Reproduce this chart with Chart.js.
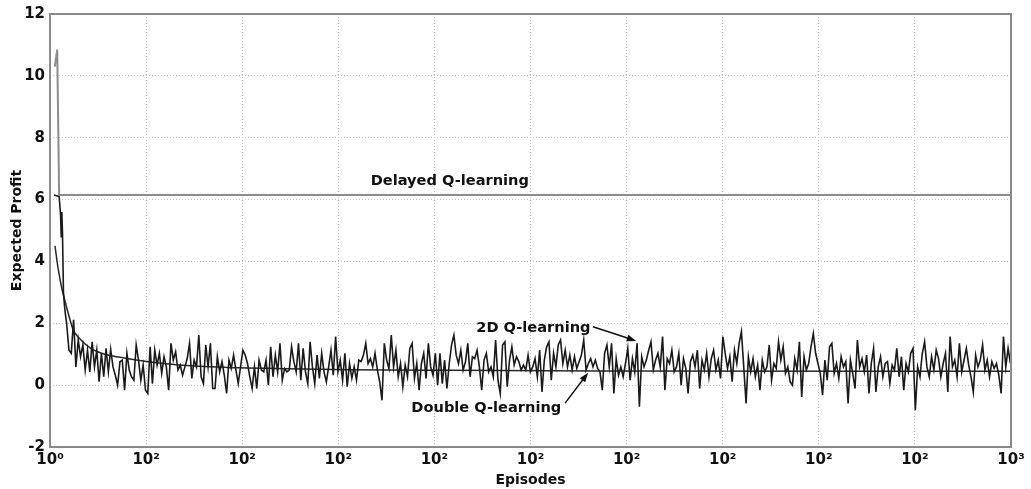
<!DOCTYPE html>
<html lang="en">
<head>
    <meta charset="UTF-8">
    <title>Expected Profit vs Episodes</title>
    <script src="https://cdn.jsdelivr.net/npm/chart.js"></script>
    <style>
        * { margin: 0; padding: 0; box-sizing: border-box; }
        body { background: #fff; }
        .wrap { width: 1031px; height: 489px; }
    </style>
</head>
<body>
    <div class="wrap"><canvas id="profitChart"></canvas></div>

    <script>
        // Delayed Q-learning: short spike, then flat
        const delayedEp = [5, 7.5, 9.5, 1000];
        const delayedVal = [10.3, 10.85, 6.15, 6.15];

        // Double Q-learning: smooth decaying curve
        const doubleEp = [5.2, 8.3, 12.5, 16.6, 24, 31, 42, 57, 73, 104, 146, 198, 247, 312, 416, 572, 1000];
        const doubleVal = [4.5, 3.8, 3.1, 2.6, 1.8, 1.5, 1.2, 1.0, 0.9, 0.75, 0.63, 0.56, 0.53, 0.5, 0.48, 0.46, 0.45];

        // 2D Q-learning: first few episodes
        const headEp = [4, 9.5, 11, 11.7, 12.3, 13, 14, 15, 16];
        const headVal = [6.15, 6.1, 5.5, 4.8, 5.6, 4.9, 3.0, 2.6, 2.3];

        const noiseStart = 17.3;
        const noiseStep = 2.413;
        const noiseVal = [
            2.00,1.13,1.03,2.11,0.59,1.46,0.92,1.30,0.49,1.13,
            0.43,1.40,0.59,1.13,0.11,1.03,0.27,1.19,0.43,1.16,
            0.59,0.32,0.00,0.76,0.81,-0.16,1.03,0.49,0.27,0.16,
            1.30,0.81,0.16,0.65,-0.16,-0.27,1.24,0.05,1.13,0.65,
            1.03,0.38,0.92,0.59,-0.16,1.35,0.81,1.08,0.49,0.65,
            0.32,0.59,0.86,1.35,0.22,0.81,0.59,1.62,0.27,0.05,
            1.30,0.59,1.35,-0.11,-0.11,0.92,0.43,0.76,0.32,-0.27,
            0.81,0.54,0.97,0.49,0.05,0.59,1.13,0.97,0.70,0.27,
            -0.11,0.59,-0.11,0.81,0.49,0.43,0.81,0.00,1.24,0.27,
            0.97,0.43,1.35,0.16,0.54,0.43,0.49,1.24,
            // 250 - 500
            0.76,0.43,1.35,0.16,1.19,0.43,0.05,1.40,0.59,0.05,
            0.97,0.22,1.03,0.43,0.11,0.59,1.13,0.32,1.57,0.43,
            0.81,0.16,1.03,-0.05,0.70,0.22,0.59,0.16,0.81,0.76,
            0.97,1.35,0.70,0.86,0.59,1.03,0.49,0.11,-0.49,1.35,
            0.81,0.54,1.62,0.59,1.13,0.27,0.70,-0.05,0.65,0.27,
            1.19,1.35,0.22,0.70,-0.16,0.70,1.03,0.22,1.35,0.59,
            0.32,1.03,0.00,1.03,0.05,0.81,-0.11,0.70,1.30,1.62,
            0.97,0.70,1.13,0.49,0.76,1.35,0.27,0.92,0.86,1.13,
            0.59,-0.16,0.81,1.03,0.43,0.59,0.27,1.46,0.16,-0.27,
            1.30,1.40,-0.05,0.81,1.24,0.65,0.92,0.76,0.49,0.65,
            0.49,0.97,0.43,
            // 500 - 750
            0.59,0.86,0.27,1.13,-0.22,0.81,1.24,1.40,0.16,1.03,
            0.59,1.30,1.46,0.70,1.13,0.59,0.97,0.49,0.92,0.54,
            0.76,0.97,1.46,0.49,0.70,0.86,0.59,0.81,0.54,0.43,
            -0.16,1.03,1.30,0.59,1.35,-0.27,0.86,0.32,0.59,0.27,
            0.70,1.19,0.16,0.86,0.43,1.35,-0.70,0.92,0.59,0.81,
            1.13,1.40,0.49,0.81,1.03,0.59,1.57,-0.16,0.86,0.70,
            1.13,0.43,0.59,1.03,0.00,0.86,0.54,-0.27,0.76,0.97,
            0.59,1.13,-0.11,0.81,0.49,1.03,0.27,0.86,1.13,0.49,
            0.81,0.22,1.57,1.03,0.54,0.92,0.11,1.13,0.70,1.35,
            1.73,0.59,-0.59,0.92,0.43,0.86,0.27,0.65,-0.16,0.81,
            0.43,0.59,1.30,
            // 750 - 1000
            0.16,0.70,0.54,1.40,0.81,1.24,0.38,0.59,0.11,0.00,
            0.86,0.49,1.40,-0.38,0.92,0.49,0.70,1.24,1.67,1.03,
            0.70,0.38,-0.32,0.81,0.16,1.24,1.35,0.38,0.70,0.22,
            0.92,0.59,0.76,-0.59,0.81,0.38,-0.11,1.46,0.59,0.86,
            0.43,0.97,-0.27,0.70,1.19,-0.22,0.59,0.92,0.27,0.70,
            0.76,0.05,0.65,0.49,1.19,0.27,0.92,-0.16,0.70,0.43,
            1.03,1.19,-0.81,0.59,0.27,1.03,1.40,0.59,0.27,0.92,
            0.49,1.13,0.86,0.27,0.70,1.03,-0.22,1.57,0.59,0.81,
            0.27,1.35,0.43,0.81,1.19,0.65,0.27,-0.22,0.97,0.59,
            0.81,1.30,0.49,0.81,0.27,0.76,0.54,0.70,0.32,-0.27,
            1.57,0.59,1.19,0.70
        ];

        const xTicks = [0, 100, 200, 300, 400, 500, 600, 700, 800, 900, 1000];
        const xTickLabels = ['10⁰', '10²', '10²', '10²', '10²', '10²', '10²', '10²', '10²', '10²', '10³'];

        // text labels with arrows, in data units
        const notes = [
            { text: 'Delayed Q-learning', x: 416, y: 6.58 },
            { text: '2D Q-learning', x: 503, y: 1.85, from: [565, 1.89], to: [610, 1.43] },
            { text: 'Double Q-learning', x: 454, y: -0.74, from: [536, -0.58], to: [560, 0.40] }
        ];

        const pts = (xs, ys) => xs.map((x, i) => ({ x: x, y: ys[i] }));
        const noisePts = noiseVal.map((v, i) => ({ x: noiseStart + i * noiseStep, y: v }));
        const twoDPts = pts(headEp, headVal).concat(noisePts);

        const boldFont = { family: 'DejaVu Sans', size: 14, weight: 'bold' };

        const framePlugin = {
            id: 'frame',
            afterDatasetsDraw(chart) {
                const ctx = chart.ctx;
                const a = chart.chartArea;
                const xs = chart.scales.x, ys = chart.scales.y;
                ctx.save();
                ctx.strokeStyle = '#8a8a8a';
                ctx.lineWidth = 2;
                ctx.strokeRect(a.left, a.top, a.right - a.left, a.bottom - a.top);

                ctx.font = 'bold 14.6px "DejaVu Sans"';
                ctx.fillStyle = '#111';
                ctx.textAlign = 'center';
                ctx.textBaseline = 'middle';
                notes.forEach(n => {
                    ctx.fillText(n.text, xs.getPixelForValue(n.x), ys.getPixelForValue(n.y));
                    if (!n.from) return;
                    const x1 = xs.getPixelForValue(n.from[0]), y1 = ys.getPixelForValue(n.from[1]);
                    const x2 = xs.getPixelForValue(n.to[0]), y2 = ys.getPixelForValue(n.to[1]);
                    const ang = Math.atan2(y2 - y1, x2 - x1);
                    ctx.strokeStyle = '#111';
                    ctx.lineWidth = 1.5;
                    ctx.beginPath();
                    ctx.moveTo(x1, y1);
                    ctx.lineTo(x2 - 6 * Math.cos(ang), y2 - 6 * Math.sin(ang));
                    ctx.stroke();
                    ctx.beginPath();
                    ctx.moveTo(x2, y2);
                    ctx.lineTo(x2 - 10 * Math.cos(ang - 0.35), y2 - 10 * Math.sin(ang - 0.35));
                    ctx.lineTo(x2 - 10 * Math.cos(ang + 0.35), y2 - 10 * Math.sin(ang + 0.35));
                    ctx.closePath();
                    ctx.fill();
                });
                ctx.restore();
            }
        };

        new Chart(document.getElementById('profitChart'), {
            type: 'line',
            data: {
                datasets: [
                    {
                        label: 'Delayed Q-learning',
                        data: pts(delayedEp, delayedVal),
                        borderColor: '#8c8c8c',
                        borderWidth: 2,
                        pointRadius: 0
                    },
                    {
                        label: '2D Q-learning',
                        data: twoDPts,
                        borderColor: '#1a1a1a',
                        borderWidth: 1.6,
                        pointRadius: 0
                    },
                    {
                        label: 'Double Q-learning',
                        data: pts(doubleEp, doubleVal),
                        borderColor: '#2a2a2a',
                        borderWidth: 1.5,
                        pointRadius: 0,
                        cubicInterpolationMode: 'monotone'
                    }
                ]
            },
            options: {
                responsive: true,
                maintainAspectRatio: false,
                animation: false,
                layout: { padding: { top: 14, right: 20, left: 0, bottom: 0 } },
                plugins: {
                    legend: { display: false },
                    tooltip: { enabled: false }
                },
                scales: {
                    x: {
                        type: 'linear',
                        min: 0,
                        max: 1000,
                        afterBuildTicks: s => { s.ticks = xTicks.map(v => ({ value: v })); },
                        afterFit: s => { s.height = 42; },
                        ticks: {
                            padding: 4,
                            color: '#111',
                            font: { family: 'DejaVu Sans', size: 15, weight: 'bold' },
                            maxRotation: 0,
                            callback: (v, i) => xTickLabels[i]
                        },
                        grid: { color: '#c8c8c8', drawTicks: false },
                        border: { display: false, dash: [1, 2] },
                        title: {
                            display: true,
                            text: 'Episodes',
                            color: '#111',
                            font: boldFont,
                            padding: { top: 0, bottom: 0 }
                        }
                    },
                    y: {
                        min: -2,
                        max: 12,
                        afterFit: s => { s.width = 50; },
                        ticks: {
                            stepSize: 2,
                            padding: 5,
                            color: '#111',
                            font: { family: 'DejaVu Sans', size: 15, weight: 'bold' }
                        },
                        grid: { color: '#c8c8c8', drawTicks: false },
                        border: { display: false, dash: [1, 2] },
                        title: {
                            display: true,
                            text: 'Expected Profit',
                            color: '#111',
                            font: boldFont,
                            padding: { top: 9, bottom: 0 }
                        }
                    }
                }
            },
            plugins: [framePlugin]
        });
    </script>
</body>
</html>
